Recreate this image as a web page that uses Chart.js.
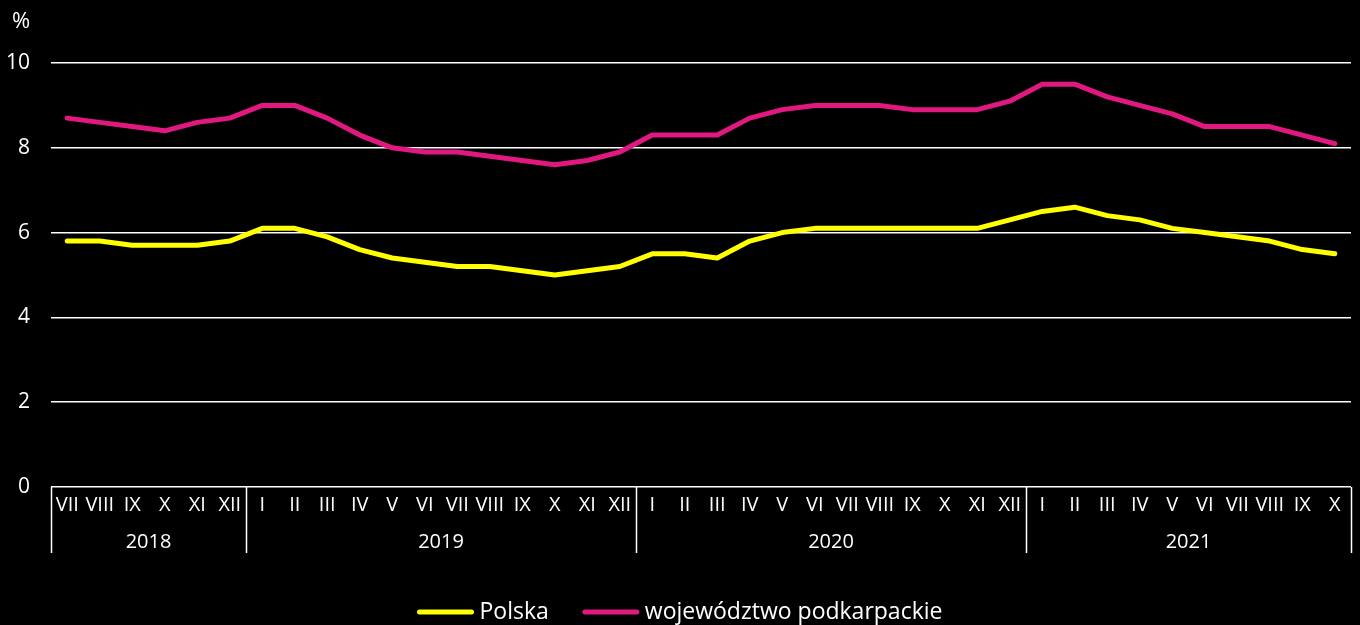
<!DOCTYPE html>
<html>
<head>
<meta charset="utf-8">
<script src="https://cdn.jsdelivr.net/npm/chart.js@4/dist/chart.umd.min.js"></script>
<style>
  html, body { margin: 0; padding: 0; background: #000; }
  #wrap { width: 1360px; height: 625px; }
</style>
</head>
<body>
<div id="wrap"><canvas id="canvas"></canvas></div>
<script>
'use strict'

const months = [
  'VII', 'VIII', 'IX', 'X', 'XI', 'XII',
  'I', 'II', 'III', 'IV', 'V', 'VI', 'VII', 'VIII', 'IX', 'X', 'XI', 'XII',
  'I', 'II', 'III', 'IV', 'V', 'VI', 'VII', 'VIII', 'IX', 'X', 'XI', 'XII',
  'I', 'II', 'III', 'IV', 'V', 'VI', 'VII', 'VIII', 'IX', 'X'
]
const years = ['2018', '2019', '2020', '2021']
const monthsPerYear = [6, 12, 12, 10]

const polska = [
  5.8, 5.8, 5.7, 5.7, 5.7, 5.8,
  6.1, 6.1, 5.9, 5.6, 5.4, 5.3, 5.2, 5.2, 5.1, 5.0, 5.1, 5.2,
  5.5, 5.5, 5.4, 5.8, 6.0, 6.1, 6.1, 6.1, 6.1, 6.1, 6.1, 6.3,
  6.5, 6.6, 6.4, 6.3, 6.1, 6.0, 5.9, 5.8, 5.6, 5.5
]
const podkarpackie = [
  8.7, 8.6, 8.5, 8.4, 8.6, 8.7,
  9.0, 9.0, 8.7, 8.3, 8.0, 7.9, 7.9, 7.8, 7.7, 7.6, 7.7, 7.9,
  8.3, 8.3, 8.3, 8.7, 8.9, 9.0, 9.0, 9.0, 8.9, 8.9, 8.9, 9.1,
  9.5, 9.5, 9.2, 9.0, 8.8, 8.5, 8.5, 8.5, 8.3, 8.1
]
const yTicks = [0, 2, 4, 6, 8, 10]

const FONT = '"Open Sans", sans-serif'
const WHITE = '#ffffff'

// month row, year row, separators, unit label and legend
const axisPlugin = {
  id: 'axisLabels',
  afterDraw (chart) {
    const { ctx, chartArea } = chart
    const x = chart.scales.x
    const bottom = chartArea.bottom
    const half = (x.getPixelForValue(1) - x.getPixelForValue(0)) / 2
    ctx.save()
    ctx.fillStyle = WHITE
    ctx.strokeStyle = WHITE
    ctx.textAlign = 'center'
    ctx.textBaseline = 'middle'
    ctx.font = '20px ' + FONT
    months.forEach((m, i) => ctx.fillText(m, x.getPixelForValue(i), bottom + 18))

    ctx.lineWidth = 1.5
    let start = 0
    const edges = [x.getPixelForValue(0) - half]
    monthsPerYear.forEach((n, k) => {
      const left = x.getPixelForValue(start) - half
      const right = x.getPixelForValue(start + n - 1) + half
      edges.push(right)
      ctx.fillText(years[k], (left + right) / 2, bottom + 55)
      start += n
    })
    edges.forEach(e => {
      const px = Math.round(e) + 0.5
      ctx.beginPath()
      ctx.moveTo(px, bottom)
      ctx.lineTo(px, bottom + 66)
      ctx.stroke()
    })

    ctx.font = '22px ' + FONT
    ctx.fillText('%', 21, 22)

    // legend
    ctx.font = '23px ' + FONT
    const items = chart.data.datasets.map(d => ({ label: d.label, color: d.borderColor, w: ctx.measureText(d.label).width }))
    const lineW = 56
    const total = items.reduce((s, it) => s + lineW + 6 + it.w, 0) + 34
    let lx = chart.width / 2 - total / 2
    const ly = 612
    ctx.textAlign = 'left'
    ctx.lineCap = 'round'
    items.forEach(it => {
      ctx.strokeStyle = it.color
      ctx.lineWidth = 5
      ctx.beginPath()
      ctx.moveTo(lx + 2, ly)
      ctx.lineTo(lx + lineW - 2, ly)
      ctx.stroke()
      lx += lineW + 6
      ctx.fillText(it.label, lx, ly)
      lx += it.w + 34
    })
    ctx.restore()
  }
}

const ctx = document.getElementById('canvas').getContext('2d')
const chart = new Chart(ctx, {
  type: 'line',
  data: {
    labels: months,
    datasets: [
      {
        label: 'Polska',
        data: polska,
        borderColor: '#ffff00',
        borderWidth: 5,
        pointRadius: 0,
        tension: 0,
        borderCapStyle: 'round',
        borderJoinStyle: 'round'
      },
      {
        label: 'województwo podkarpackie',
        data: podkarpackie,
        borderColor: '#e0187f',
        borderWidth: 5,
        pointRadius: 0,
        tension: 0,
        borderCapStyle: 'round',
        borderJoinStyle: 'round'
      }
    ]
  },
  options: {
    responsive: true,
    maintainAspectRatio: false,
    animation: false,
    layout: { padding: { top: 63, right: 9, left: 0, bottom: 0 } },
    plugins: {
      legend: { display: false },
      tooltip: { enabled: false }
    },
    scales: {
      x: {
        offset: true,
        grid: { display: false },
        border: { display: false },
        ticks: { display: false },
        afterFit: scale => { scale.height = 625 - 487 }
      },
      y: {
        min: 0,
        max: 10,
        afterBuildTicks: scale => { scale.ticks = yTicks.map(v => ({ value: v })) },
        afterFit: scale => { scale.width = 51 },
        border: { display: false },
        grid: { color: WHITE, lineWidth: 1.5, drawTicks: false },
        ticks: {
          color: WHITE,
          padding: 21,
          font: { family: FONT, size: 21 }
        }
      }
    }
  },
  plugins: [axisPlugin]
})
</script>
</body>
</html>
